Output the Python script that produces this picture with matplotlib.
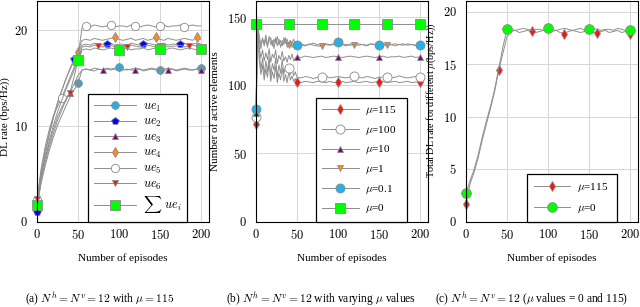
import matplotlib
matplotlib.use('Agg')
import matplotlib.pyplot as plt
from matplotlib.ticker import StrMethodFormatter

plt.rcParams['font.family'] = ['Liberation Serif', 'DejaVu Serif']
plt.rcParams['mathtext.fontset'] = 'cm'

# ---------------- data: panel (a) ----------------
episodes_a = list(range(0, 205, 5))
ue1 = [1.6, 4.0, 5.8, 7.4, 8.8, 10.0, 11.0, 12.0, 12.9, 13.7, 14.4,
       15.8, 15.9, 15.8, 16.0, 15.9, 15.8, 16.0, 15.9, 16.0, 16.1,
       15.9, 15.8, 15.9, 16.0, 15.9, 15.8, 15.9, 16.0, 15.9, 15.8,
       15.9, 16.0, 15.9, 15.8, 15.9, 16.0, 15.9, 15.8, 15.9, 16.0]
ue2 = [1.0, 4.6, 7.0, 9.0, 10.8, 12.3, 13.6, 14.8, 15.9, 16.9, 17.6,
       18.4, 18.5, 18.4, 18.6, 18.5, 18.4, 18.5, 18.6, 18.4, 18.5,
       18.5, 18.4, 18.6, 18.5, 18.4, 18.5, 18.6, 18.5, 18.4, 18.5,
       18.6, 18.4, 18.5, 18.5, 18.5, 18.6, 18.4, 18.5, 18.6, 18.5]
ue3 = [1.5, 4.3, 6.2, 7.8, 9.2, 10.5, 11.6, 12.6, 13.4, 14.3, 15.2,
       15.8, 15.9, 15.8, 15.7, 15.9, 15.8, 15.9, 15.8, 15.9, 15.7,
       15.8, 15.9, 15.8, 15.8, 15.9, 15.7, 15.8, 15.9, 15.8, 15.9,
       15.8, 15.8, 15.9, 15.7, 15.8, 15.9, 15.8, 15.8, 15.9, 15.8]
ue4 = [2.0, 5.2, 7.4, 9.2, 10.9, 12.4, 13.6, 14.8, 15.8, 16.7, 17.7,
       18.9, 19.0, 18.9, 19.1, 19.0, 18.9, 19.0, 19.1, 19.2, 19.0,
       18.9, 19.0, 19.1, 18.9, 19.0, 19.1, 18.9, 19.0, 19.2, 19.0,
       18.9, 19.1, 19.0, 18.9, 19.0, 19.1, 19.0, 18.9, 19.2, 19.0]
ue5 = [2.2, 5.5, 7.8, 9.6, 11.0, 12.0, 12.9, 13.9, 15.0, 16.0, 17.2,
       20.2, 20.4, 20.3, 20.5, 20.4, 20.3, 20.4, 20.5, 20.3, 20.4,
       20.4, 20.3, 20.5, 20.4, 20.3, 20.4, 20.5, 20.4, 20.3, 20.4,
       20.5, 20.3, 20.4, 20.4, 20.5, 20.3, 20.4, 20.5, 20.4, 20.4]
ue6 = [2.3, 4.8, 6.6, 8.2, 9.6, 10.9, 11.9, 12.7, 13.4, 15.0, 16.8,
       18.2, 18.3, 18.2, 18.4, 18.3, 18.2, 18.3, 18.4, 18.2, 18.3,
       18.3, 18.2, 18.4, 18.3, 18.2, 18.3, 18.4, 18.3, 18.2, 18.3,
       18.4, 18.2, 18.3, 18.3, 18.4, 18.2, 18.3, 18.4, 18.3, 18.2]
ue_sum = [1.7, 4.5, 6.6, 8.4, 10.0, 11.4, 12.6, 13.7, 14.7, 15.7, 16.8,
          17.9, 18.0, 17.9, 18.1, 18.0, 17.9, 18.0, 18.1, 18.0, 17.9,
          18.0, 18.1, 17.9, 18.0, 18.0, 18.1, 17.9, 18.0, 18.1, 18.0,
          17.9, 18.0, 18.1, 18.0, 17.9, 18.0, 18.1, 18.0, 17.9, 18.0]
labels_a = [r'$ue_1$', r'$ue_2$', r'$ue_3$', r'$ue_4$', r'$ue_5$', r'$ue_6$', r'$\sum\ ue_i$']

# ---------------- data: panel (b) ----------------
episodes_b = list(range(0, 50, 2)) + list(range(50, 205, 5))
mu115_b = [72, 143, 118, 108, 115, 104, 112, 106, 117, 103, 110, 105, 114, 102, 109, 104, 113, 103, 108, 102, 110, 104, 107, 103, 105,
           102.5, 102, 103, 102.5, 102, 103, 102.5, 102, 103, 102, 102.5,
           103, 102, 102.5, 103, 102, 102.5, 103, 102, 102.5, 102.5,
           103, 102, 102.5, 103, 102, 102.5, 103, 102, 102.5, 102.5]
mu100_b = [77, 145, 122, 112, 120, 108, 118, 110, 121, 107, 116, 111, 120, 106, 115, 109, 119, 108, 114, 110, 112.5, 108, 113, 107, 110,
           106, 105.5, 106.5, 106, 105, 106, 106, 107, 105.5, 106, 106.5,
           106, 105.5, 106, 107, 106, 105.5, 106.5, 106, 105, 106,
           106, 106.5, 105.5, 106, 107, 106, 105.5, 106, 106.5, 106]
mu10_b = [80, 145, 128, 120, 126, 118, 124, 119, 127, 117, 123, 120, 126, 116, 122, 119, 125, 118, 121, 117, 122, 119, 123, 118, 120,
          121, 120.5, 121.5, 121, 120.5, 121, 121.5, 120.5, 121, 121.5, 121,
          120.5, 121, 121.5, 121, 120.5, 121, 121.5, 121, 120.5, 121,
          121.5, 120.5, 121, 121, 121.5, 120.5, 121, 121.5, 120.5, 121]
mu1_b = [82, 145, 133, 127, 135, 129, 134, 128, 136, 130, 133, 127, 135, 129, 134, 128, 133, 130, 135, 128, 130, 133, 128, 131, 129,
         129.5, 130, 129, 130.5, 129.5, 129, 128.6, 130, 129.5, 130, 129.5,
         130, 129, 130.5, 130, 129.5, 130, 129, 130.5, 130, 129.5,
         130, 129.5, 130, 129, 130, 130.5, 129.5, 130, 129.5, 130]
mu01_b = [83, 145, 136, 130, 134, 131, 137, 130, 133, 135, 129, 134, 131, 136, 130, 133, 129, 135, 131, 134, 130, 133, 131, 134, 130,
          130, 130.5, 129.5, 130, 131, 130, 129.5, 130.5, 130, 130.5, 131.6,
          130.5, 130, 129.5, 130, 130.5, 130, 129.5, 130.5, 130, 130,
          130.5, 129.5, 130, 130.5, 130, 129.5, 130.5, 130, 129.5, 130]
episodes_mu0_b = [0, 40, 80, 120, 160, 200]
mu0_b = [145, 145, 145, 145, 145, 145]
labels_b = [r'$\mu$=115', r'$\mu$=100', r'$\mu$=10', r'$\mu$=1', r'$\mu$=0.1', r'$\mu$=0']

# ---------------- data: panel (c) ----------------
episodes_c = list(range(0, 205, 5))
mu115_c = [1.7, 3.6, 4.7, 6.1, 7.8, 9.3, 10.8, 12.4, 14.4, 16.0, 17.6,
           18.1, 18.2, 18.0, 18.1, 18.2, 18.1, 18.0, 18.1, 18.2, 18.0,
           18.1, 18.2, 18.0, 17.9, 18.1, 18.2, 18.1, 18.0, 18.1, 18.2,
           18.0, 18.0, 18.1, 18.2, 18.0, 18.1, 18.2, 18.0, 18.1, 17.9]
mu0_c = [2.7, 3.9, 5.0, 6.4, 8.1, 9.6, 11.0, 12.6, 14.6, 16.6, 18.3,
         18.3, 18.2, 18.3, 18.4, 18.3, 18.2, 18.3, 18.3, 18.2, 18.4,
         18.3, 18.2, 18.3, 18.4, 18.3, 18.2, 18.3, 18.4, 18.2, 18.3,
         18.4, 18.3, 18.2, 18.3, 18.3, 18.2, 18.4, 18.3, 18.2, 18.2]
labels_c = [r'$\mu$=115', r'$\mu$=0']

xticks = [0, 50, 100, 150, 200]

# ---------------- styling ----------------
LINE = '#8f8f8f'
EDGE = '#8a8a8a'
LBLUE = '#22b2e8'
GREEN = '#00ff00'
RED = '#ff1010'
ORANGE = '#ff8a1a'
PURPLE = '#800080'
BLUE = '#0000ff'


def series(ax, x, y, marks, marker, mfc, ms, label=None):
    idx = [x.index(e) for e in marks]
    ln, = ax.plot(x, y, color=LINE, lw=0.7, marker=marker, markevery=idx,
                  mfc=mfc, mec=EDGE, mew=0.6, ms=ms, label=label, clip_on=False)
    return ln


def cross(ax, x, y, marks, ms):
    idx = [x.index(e) for e in marks]
    ln, = ax.plot(x, y, ls='none', marker='+', markevery=idx, color=EDGE,
                  mew=0.8, ms=ms, clip_on=False)
    return ln


def style(ax, ylim, yticks):
    ax.set_xlim(0, 210)
    ax.set_ylim(*ylim)
    ax.set_xticks(xticks)
    ax.set_yticks(yticks)
    fmt = StrMethodFormatter('${x:.0f}$')
    ax.xaxis.set_major_formatter(fmt)
    ax.yaxis.set_major_formatter(fmt)
    ax.grid(True, color='#d6d6d6', lw=0.7)
    ax.set_axisbelow(True)
    ax.tick_params(length=0, labelsize=9)
    ax.tick_params(axis='x', pad=5)
    ax.tick_params(axis='y', pad=6.5)
    for s in ax.spines.values():
        s.set_linewidth(0.8)
        s.set_color('black')


W, H = 640, 307
fig = plt.figure(figsize=(6.4, 3.07), dpi=100)
bot = 1 - 221.5 / H
hgt = 220.5 / H
ax_a = fig.add_axes([37 / W, bot, 172 / W, hgt])
ax_b = fig.add_axes([256 / W, bot, 172 / W, hgt])
ax_c = fig.add_axes([466 / W, bot, 172 / W, hgt])

# ----- panel (a) -----
h1 = series(ax_a, episodes_a, ue1, [0, 50, 100, 150, 200], 'o', LBLUE, 5.5)
h1c = cross(ax_a, episodes_a, ue1, [0, 50, 100, 150, 200], 5.5)
h2 = series(ax_a, episodes_a, ue2, [0, 45, 85, 130, 175], 'p', BLUE, 6)
h3 = series(ax_a, episodes_a, ue3, [0, 40, 80, 120, 160, 200], '^', PURPLE, 4.5)
h4 = series(ax_a, episodes_a, ue4, [0, 50, 95, 145, 195], 'd', ORANGE, 5.5)
h5 = series(ax_a, episodes_a, ue5, [0, 30, 60, 90, 120, 150, 180], 'o', 'white', 6)
h6 = series(ax_a, episodes_a, ue6, [0, 40, 75, 110, 150, 185], 'v', RED, 4.5)
h7 = series(ax_a, episodes_a, ue_sum, [0, 50, 100, 150, 200], 's', GREEN, 6.5)
style(ax_a, (0, 23), [0, 10, 20])

leg_kw = dict(loc='lower left', borderaxespad=0, fancybox=False, framealpha=1,
              edgecolor='black', handlelength=3.3, handletextpad=0.6,
              numpoints=1, mode='expand')
leg = ax_a.legend([(h1, h1c), h2, h3, h4, h5, h6, h7], labels_a,
                  bbox_to_anchor=(51 / 172, 0, 99 / 172, 0.5), fontsize=9,
                  labelspacing=0.2, borderpad=0.5, **leg_kw)
leg.get_frame().set_linewidth(0.9)

# ----- panel (b) -----
g1 = series(ax_b, episodes_b, mu115_b, [0, 50, 100, 150, 200], 'd', RED, 5)
g2 = series(ax_b, episodes_b, mu100_b, [0, 40, 80, 120, 160, 200], 'o', 'white', 6.5)
g3 = series(ax_b, episodes_b, mu10_b, [0, 50, 100, 150, 200], '^', PURPLE, 5)
g4 = series(ax_b, episodes_b, mu1_b, [0, 40, 80, 120, 160, 200], 'v', ORANGE, 5)
g5 = series(ax_b, episodes_b, mu01_b, [0, 50, 100, 150, 200], 'o', LBLUE, 6.5)
g6 = series(ax_b, episodes_mu0_b, mu0_b, episodes_mu0_b, 's', GREEN, 6.5)
style(ax_b, (0, 162), [0, 50, 100, 150])
leg = ax_b.legend([g1, g2, g3, g4, g5, g6], labels_b,
                  bbox_to_anchor=(60 / 172, 0, 91 / 172, 0.5), fontsize=8,
                  labelspacing=0.6, borderpad=0.55, **leg_kw)
leg.get_frame().set_linewidth(0.9)

# ----- panel (c) -----
k1 = series(ax_c, episodes_c, mu115_c, [0, 40, 80, 120, 160, 200], 'd', RED, 5)
k2 = series(ax_c, episodes_c, mu0_c, [0, 50, 100, 150, 200], 'o', GREEN, 7)
style(ax_c, (0, 21), [0, 5, 10, 15, 20])
leg = ax_c.legend([k1, k2], labels_c,
                  bbox_to_anchor=(61 / 172, 0, 90 / 172, 0.5), fontsize=8,
                  labelspacing=0.7, borderpad=0.6, **leg_kw)
leg.get_frame().set_linewidth(0.9)

# ----- labels and captions -----
fs = 8
for cx in (123, 342, 552):
    fig.text(cx / W, 1 - 258 / H, 'Number of episodes', ha='center', va='center', fontsize=fs)
fig.text(5 / W, 1 - 117 / H, 'DL rate (bps/Hz))', rotation=90, ha='center', va='center', fontsize=fs)
fig.text(215 / W, 1 - 111 / H, 'Number of active elements', rotation=90, ha='center', va='center', fontsize=fs)
fig.text(431 / W, 1 - 100 / H, r'Total DL rate for different $\mu$(bps/Hz))', rotation=90,
         ha='center', va='center', fontsize=7.3)

cap_fs = 8.3
cap_y = 1 - 299.5 / H
fig.text(100 / W, cap_y, r'(a) $N^h = N^v = 12$ with $\mu = 115$', ha='center', va='center', fontsize=cap_fs)
fig.text(321 / W, cap_y, r'(b) $N^h = N^v = 12$ with varying $\mu$ values', ha='center', va='center', fontsize=cap_fs)
fig.text(532 / W, cap_y, r'(c) $N^h = N^v = 12$ ($\mu$ values = 0 and 115)', ha='center', va='center', fontsize=cap_fs)

fig.savefig('out.png', dpi=100)
